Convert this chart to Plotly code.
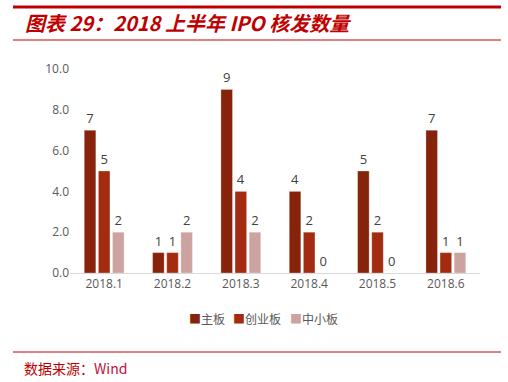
import plotly.graph_objects as go

categories = ["2018.1", "2018.2", "2018.3", "2018.4", "2018.5", "2018.6"]
main_board = [7, 1, 9, 4, 5, 7]
chinext = [5, 1, 4, 2, 2, 1]
sme = [2, 2, 2, 0, 0, 1]
series_names = ["主板", "创业板", "中小板"]
colors = ["#86230A", "#A32C10", "#CCA3A0"]
y_ticks = [0, 2, 4, 6, 8, 10]

W, H = 508, 382
L, R, T, B = 70, 28, 69, 109
pw, ph = W - L - R, H - T - B

def px(x):
    return (x - L) / pw

def py(y):
    return (H - B - y) / ph

font_main = "Open Sans, Noto Sans CJK SC, sans-serif"

fig = go.Figure()
for name, vals, c in zip(series_names, [main_board, chinext, sme], colors):
    fig.add_trace(go.Bar(
        x=categories, y=vals, name=name,
        marker=dict(color=c, line=dict(color="rgba(255,255,255,0.5)", width=0.6)),
        text=[str(v) for v in vals], textposition="outside",
        textfont=dict(size=13, color="#404040", family=font_main),
        cliponaxis=False, showlegend=False,
    ))

fig.update_layout(
    width=W, height=H,
    margin=dict(l=L, r=R, t=T, b=B),
    paper_bgcolor="white", plot_bgcolor="white",
    barmode="group", bargap=0.38, bargroupgap=0.18,
    font=dict(family=font_main),
    xaxis=dict(showline=True, linecolor="#D9D9D9", linewidth=1, ticks="",
               tickfont=dict(size=12, color="#595959"), showgrid=False),
    yaxis=dict(range=[0, 10], tickvals=y_ticks, tickformat=".1f", showgrid=False,
               zeroline=False, showline=False, ticks="",
               tickfont=dict(size=12, color="#595959")),
)

shapes = [
    dict(type="line", xref="paper", yref="paper", x0=px(13), x1=px(501), y0=py(7), y1=py(7),
         line=dict(color="#C00000", width=3)),
    dict(type="line", xref="paper", yref="paper", x0=px(13), x1=px(501), y0=py(40), y1=py(40),
         line=dict(color="#C00000", width=1)),
    dict(type="line", xref="paper", yref="paper", x0=px(13), x1=px(501), y0=py(352), y1=py(352),
         line=dict(color="#C00000", width=1)),
]
fig.update_layout(shapes=shapes)

# legend drawn as text with coloured squares, one entry per series
legend_x = [187, 231, 288]
for n, c, lx in zip(series_names, colors, legend_x):
    fig.add_annotation(xref="paper", yref="paper", x=px(lx), y=py(318), xanchor="left", yanchor="middle",
                       text=f"<span style='color:{c}'>■</span><span style='color:#595959'>{n}</span>",
                       showarrow=False, font=dict(size=12, family="Noto Sans CJK SC, sans-serif"))

fig.add_annotation(xref="paper", yref="paper", x=px(23), y=py(23), xanchor="left", yanchor="middle",
                   text="<b><i>图表 29：2018 上半年 IPO 核发数量</i></b>", showarrow=False,
                   font=dict(size=20, color="#C00000", family="Noto Sans CJK SC, sans-serif"))
fig.add_annotation(xref="paper", yref="paper", x=px(22), y=py(368), xanchor="left", yanchor="middle",
                   text="<span style='color:#C00000'>数据来源：</span><span style='color:#C0103A'>Wind</span>",
                   showarrow=False, font=dict(size=14, family="Noto Sans CJK SC, sans-serif"))

fig.write_html("out.html", config={"displayModeBar": False},
               post_script="document.body.style.margin='0';document.body.style.overflow='hidden';")
